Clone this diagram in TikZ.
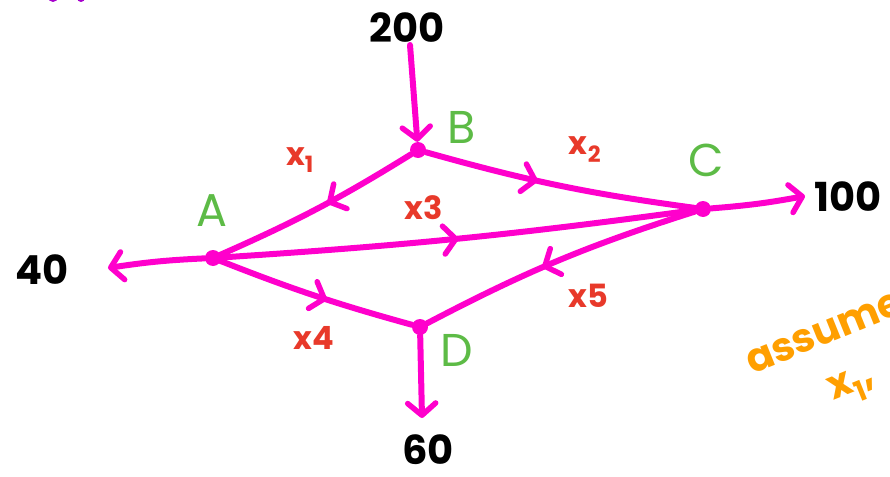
\documentclass[tikz,border=0pt]{standalone}
\usepackage{fontspec}
\setmainfont{Poppins}
\usetikzlibrary{arrows.meta,decorations.markings}
\definecolor{mag}{HTML}{FF00CC}
\definecolor{lbl}{HTML}{E8392A}
\definecolor{grn}{HTML}{5DBB46}
\definecolor{org}{HTML}{FF9F00}
\definecolor{pur}{HTML}{A600CC}
\tikzset{
  dot/.style={circle,fill=mag,inner sep=0pt,minimum size=16pt},
  edge/.style={draw=mag,line width=6pt,line cap=round},
  vtip/.style={-{Straight Barb[length=12pt,width=28pt,line width=5.5pt,round]}},
  midarrow/.style={postaction={decorate},decoration={markings,
     mark=at position #1 with {\arrow[mag]{Straight Barb[length=12pt,width=28pt,line width=5.5pt,round]}}}},
  numlbl/.style={font=\fontsize{40}{40}\selectfont\bfseries,text=black,inner sep=0pt},
  vname/.style={font=\fontsize{46}{46}\selectfont,text=grn,inner sep=0pt},
  xlbl/.style={font=\fontsize{32}{32}\selectfont\bfseries,text=lbl,inner sep=0pt},
  note/.style={font=\fontsize{40}{40}\selectfont\bfseries,text=org,inner sep=0pt,rotate=22}
}
\begin{document}
\begin{tikzpicture}[x=1pt,y=-1pt]
\useasboundingbox (0,0) rectangle (890,476);
\fill[pur] (53,-3) circle (5);
\fill[pur] (81,-2) circle (4);
% vertices
\node[dot] (B) at (418,150) {};
\node[dot] (A) at (213,258) {};
\node[dot] (C) at (703,209) {};
\node[dot] (D) at (420,327) {};
% external ends
\coordinate (in200) at (410,45);
\coordinate (out40) at (108,268);
\coordinate (out100) at (805,196);
\coordinate (out60) at (422,418);
% internal edges
\draw[edge,midarrow=0.45] (B) to[bend left=4] (A);
\draw[edge,midarrow=0.42] (B) to[bend left=-4] (C);
\draw[edge,midarrow=0.5] (A) to[bend left=-2] (C);
\draw[edge,midarrow=0.56] (A) to[bend left=-3] (D);
\draw[edge,midarrow=0.56] (C) to[bend left=-5] (D);
% external edges
\draw[edge,vtip] (in200) -- (B);
\draw[edge,vtip] (A) to[bend left=-3] (out40);
\draw[edge,vtip] (C) to[bend left=-3] (out100);
\draw[edge,vtip] (D) -- (out60);
% numbers
\node[numlbl] (n200) at (407,28) {200};
\node[numlbl] (n40) at (42,270) {40};
\node[numlbl] (n100) at (848,197) {100};
\node[numlbl] (n60) at (428,450) {60};
% vertex names
\node[vname] (lB) at (462,127) {B};
\node[vname] (lC) at (706,160) {C};
\node[vname] (lA) at (212,211) {A};
\node[vname] (lD) at (457,350) {D};
% variable labels
\node[xlbl] (x1) at (300,160) {x\textsubscript{1}};
\node[xlbl] (x2) at (585,150) {x\textsubscript{2}};
\node[xlbl] (x3) at (424,208) {x3};
\node[xlbl] (x4) at (314,338) {x4};
\node[xlbl] (x5) at (588,296) {x5};
% note
\node[note,anchor=south west] (assume) at (752,375) {assume};
\node[note,anchor=south west] (x1n) at (838,412) {x\textsubscript{1},};
\end{tikzpicture}
\end{document}
